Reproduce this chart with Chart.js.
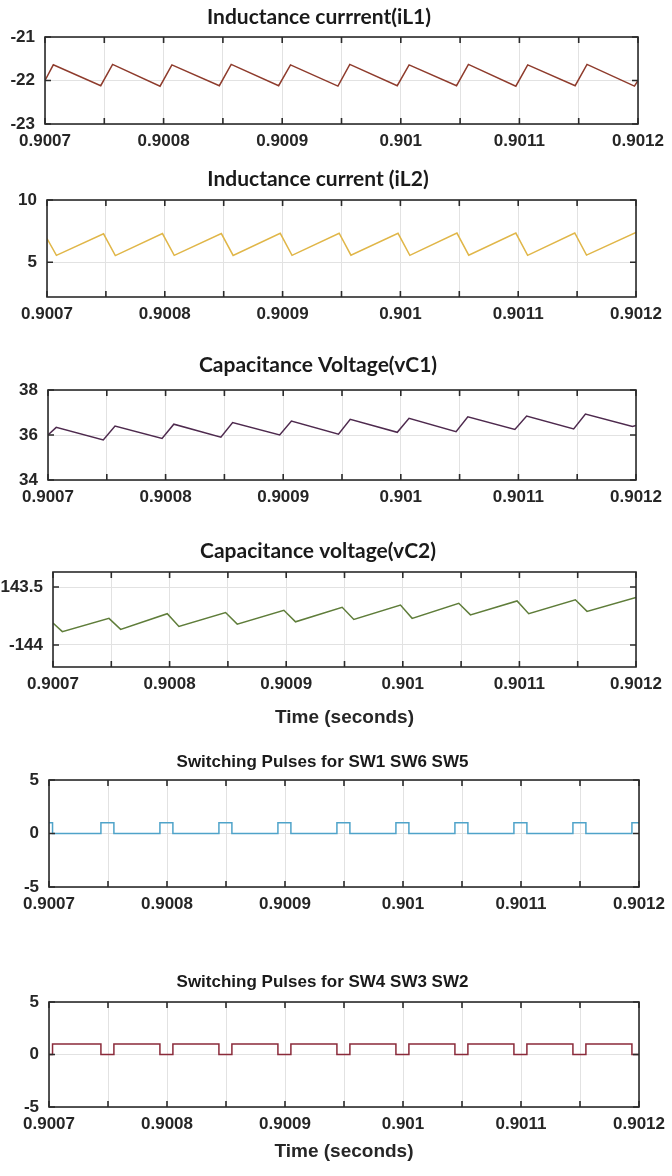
<!DOCTYPE html>
<html>
<head>
<meta charset="utf-8">
<script src="https://cdn.jsdelivr.net/npm/chart.js@4.4.1/dist/chart.umd.min.js"></script>
<style>
  html, body { margin: 0; padding: 0; background: #fff; }
  body { width: 672px; height: 1176px; position: relative; overflow: hidden; }
  .panel { position: absolute; left: 0; width: 672px; }
</style>
</head>
<body>
<div class="panel" style="top:5px;height:149px"><canvas id="c1"></canvas></div>
<div class="panel" style="top:167px;height:160px"><canvas id="c2"></canvas></div>
<div class="panel" style="top:353px;height:157px"><canvas id="c3"></canvas></div>
<div class="panel" style="top:539px;height:190px"><canvas id="c4"></canvas></div>
<div class="panel" style="top:752px;height:165px"><canvas id="c5"></canvas></div>
<div class="panel" style="top:972px;height:191px"><canvas id="c6"></canvas></div>
<script>
// time axis: grid every 0.00005 s, label every 0.0001 s
const xGrid = [0.9007, 0.90075, 0.9008, 0.90085, 0.9009, 0.90095, 0.901, 0.90105, 0.9011, 0.90115, 0.9012];
const xLabels = ['0.9007', '', '0.9008', '', '0.9009', '', '0.901', '', '0.9011', '', '0.9012'];

// corner times (fast rise after each switching edge)
const tRise = [0.9007, 0.900707, 0.900747, 0.900757, 0.900797, 0.900807, 0.900847, 0.900857,
  0.900897, 0.900907, 0.900947, 0.900957, 0.900997, 0.901007, 0.901047, 0.901057,
  0.901097, 0.901107, 0.901147, 0.901157, 0.901197, 0.9012];
// corner times for the traces with a fast drop
const tDrop = [0.9007, 0.900708, 0.900748, 0.900758, 0.900798, 0.900808, 0.900848, 0.900858,
  0.900898, 0.900908, 0.900948, 0.900958, 0.900998, 0.901008, 0.901048, 0.901058,
  0.901098, 0.901108, 0.901148, 0.901158, 0.9012];
// switching edges
const tPulse = [0.9007, 0.900703, 0.900744, 0.900755, 0.900794, 0.900805, 0.900844, 0.900855,
  0.900894, 0.900905, 0.900944, 0.900955, 0.900994, 0.901005, 0.901044, 0.901055,
  0.901094, 0.901105, 0.901144, 0.901155, 0.901194, 0.9012];

const iL1 = [-22.0, -21.64, -22.12, -21.63, -22.13, -21.64, -22.12, -21.63, -22.12, -21.64, -22.13,
  -21.63, -22.12, -21.64, -22.12, -21.63, -22.13, -21.64, -22.12, -21.63, -22.13, -22.0];
const iL2 = [6.9, 5.55, 7.28, 5.53, 7.3, 5.55, 7.3, 5.54, 7.32, 5.55, 7.33, 5.56, 7.32, 5.55,
  7.34, 5.56, 7.34, 5.55, 7.35, 5.57, 7.4];
const vC1 = [36.0, 36.34, 35.78, 36.4, 35.85, 36.48, 35.9, 36.55, 36.0, 36.62, 36.04, 36.7,
  36.12, 36.74, 36.15, 36.81, 36.25, 36.84, 36.27, 36.93, 36.38, 36.42];
const vC2 = [-143.81, -143.885, -143.77, -143.865, -143.73, -143.84, -143.72, -143.82, -143.70,
  -143.80, -143.675, -143.78, -143.655, -143.77, -143.64, -143.74, -143.62, -143.73, -143.61,
  -143.71, -143.59];
const sw1 = [1, 0, 1, 0, 1, 0, 1, 0, 1, 0, 1, 0, 1, 0, 1, 0, 1, 0, 1, 0, 1, 1];
const sw4 = [0, 1, 0, 1, 0, 1, 0, 1, 0, 1, 0, 1, 0, 1, 0, 1, 0, 1, 0, 1, 0, 0];

const tickFont = { size: 17, weight: 'bold' };
const matlabTitle = { family: 'Lato', size: 21, weight: 'bold', lineHeight: 1.2 };
const scopeTitle = { family: 'Liberation Sans', size: 17, weight: 'bold', lineHeight: 1.2 };

Chart.defaults.font.family = "'Liberation Sans', Arial, sans-serif";
Chart.defaults.color = '#262626';

// box around the axes with inward tick marks, like the scope plots
const framePlugin = {
  id: 'frame',
  afterDatasetsDraw(chart) {
    const { ctx, chartArea: a, scales: { x, y } } = chart;
    ctx.save();
    ctx.strokeStyle = '#2b2b2b';
    ctx.lineWidth = 1.6;
    ctx.beginPath();
    x.ticks.forEach(t => {
      const px = x.getPixelForValue(t.value);
      ctx.moveTo(px, a.top); ctx.lineTo(px, a.top + 6);
      ctx.moveTo(px, a.bottom); ctx.lineTo(px, a.bottom - 6);
    });
    y.ticks.forEach(t => {
      const py = y.getPixelForValue(t.value);
      ctx.moveTo(a.left, py); ctx.lineTo(a.left + 6, py);
      ctx.moveTo(a.right, py); ctx.lineTo(a.right - 6, py);
    });
    ctx.stroke();
    ctx.strokeRect(a.left, a.top, a.right - a.left, a.bottom - a.top);
    ctx.restore();
  }
};

function drawPanel(id, p) {
  new Chart(document.getElementById(id), {
    type: 'line',
    data: {
      datasets: [{
        data: p.t.map((t, i) => ({ x: t, y: p.v[i] })),
        borderColor: p.color,
        borderWidth: 1.5,
        pointRadius: 0,
        tension: 0,
        stepped: p.stepped || false
      }]
    },
    options: {
      responsive: true,
      maintainAspectRatio: false,
      animation: false,
      layout: { padding: { top: 0, left: 0, right: p.right, bottom: 0 } },
      plugins: {
        legend: { display: false },
        tooltip: { enabled: false },
        title: {
          display: true, text: p.title, font: p.titleFont, color: '#1a1a1a',
          padding: { top: 0, bottom: p.titleGap }
        }
      },
      scales: {
        x: {
          type: 'linear', min: 0.9007, max: 0.9012,
          afterBuildTicks: s => { s.ticks = xGrid.map(v => ({ value: v })); },
          afterFit: s => { s.height = p.xHeight; },
          grid: { color: '#e2e2e2', drawTicks: false },
          border: { display: false },
          ticks: { autoSkip: false, maxRotation: 0, padding: 7, font: tickFont, color: '#262626',
            callback: (v, i) => xLabels[i] },
          title: { display: !!p.xTitle, text: p.xTitle || '', font: { size: 19, weight: 'bold' },
            color: '#262626', padding: 0 }
        },
        y: {
          min: p.yMin, max: p.yMax,
          afterBuildTicks: s => { s.ticks = p.yTicks.map(v => ({ value: v })); },
          afterFit: s => { s.width = p.left; },
          grid: { color: '#e2e2e2', drawTicks: false },
          border: { display: false },
          ticks: { padding: 10, font: tickFont, color: '#262626', callback: v => String(v) }
        }
      }
    },
    plugins: [framePlugin]
  });
}

drawPanel('c1', { title: 'Inductance currrent(iL1)', titleFont: matlabTitle, titleGap: 6.8,
  t: tRise, v: iL1, color: '#8e3b2c', yMin: -23, yMax: -21, yTicks: [-23, -22, -21],
  left: 45, right: 34, xHeight: 30 });
drawPanel('c2', { title: 'Inductance current (iL2)', titleFont: matlabTitle, titleGap: 7.8,
  t: tDrop, v: iL2, color: '#e0b648', yMin: 2.2, yMax: 10, yTicks: [5, 10],
  left: 47, right: 36, xHeight: 30 });
drawPanel('c3', { title: 'Capacitance Voltage(vC1)', titleFont: matlabTitle, titleGap: 11.8,
  t: tRise, v: vC1, color: '#4e2a4e', yMin: 34, yMax: 38, yTicks: [34, 36, 38],
  left: 48, right: 36, xHeight: 30 });
drawPanel('c4', { title: 'Capacitance voltage(vC2)', titleFont: matlabTitle, titleGap: 7.8,
  t: tDrop, v: vC2, color: '#5f7d3a', yMin: -144.19, yMax: -143.37, yTicks: [-144, -143.5],
  left: 53, right: 36, xHeight: 62, xTitle: 'Time (seconds)' });
drawPanel('c5', { title: 'Switching Pulses for SW1 SW6 SW5', titleFont: scopeTitle, titleGap: 7.6,
  t: tPulse, v: sw1, color: '#4fa3c9', stepped: true, yMin: -5, yMax: 5, yTicks: [-5, 0, 5],
  left: 49, right: 27, xHeight: 30 });
drawPanel('c6', { title: 'Switching Pulses for SW4 SW3 SW2', titleFont: scopeTitle, titleGap: 9.6,
  t: tPulse, v: sw4, color: '#8a2a3a', stepped: true, yMin: -5, yMax: 5, yTicks: [-5, 0, 5],
  left: 49, right: 27, xHeight: 56, xTitle: 'Time (seconds)' });
</script>
</body>
</html>
